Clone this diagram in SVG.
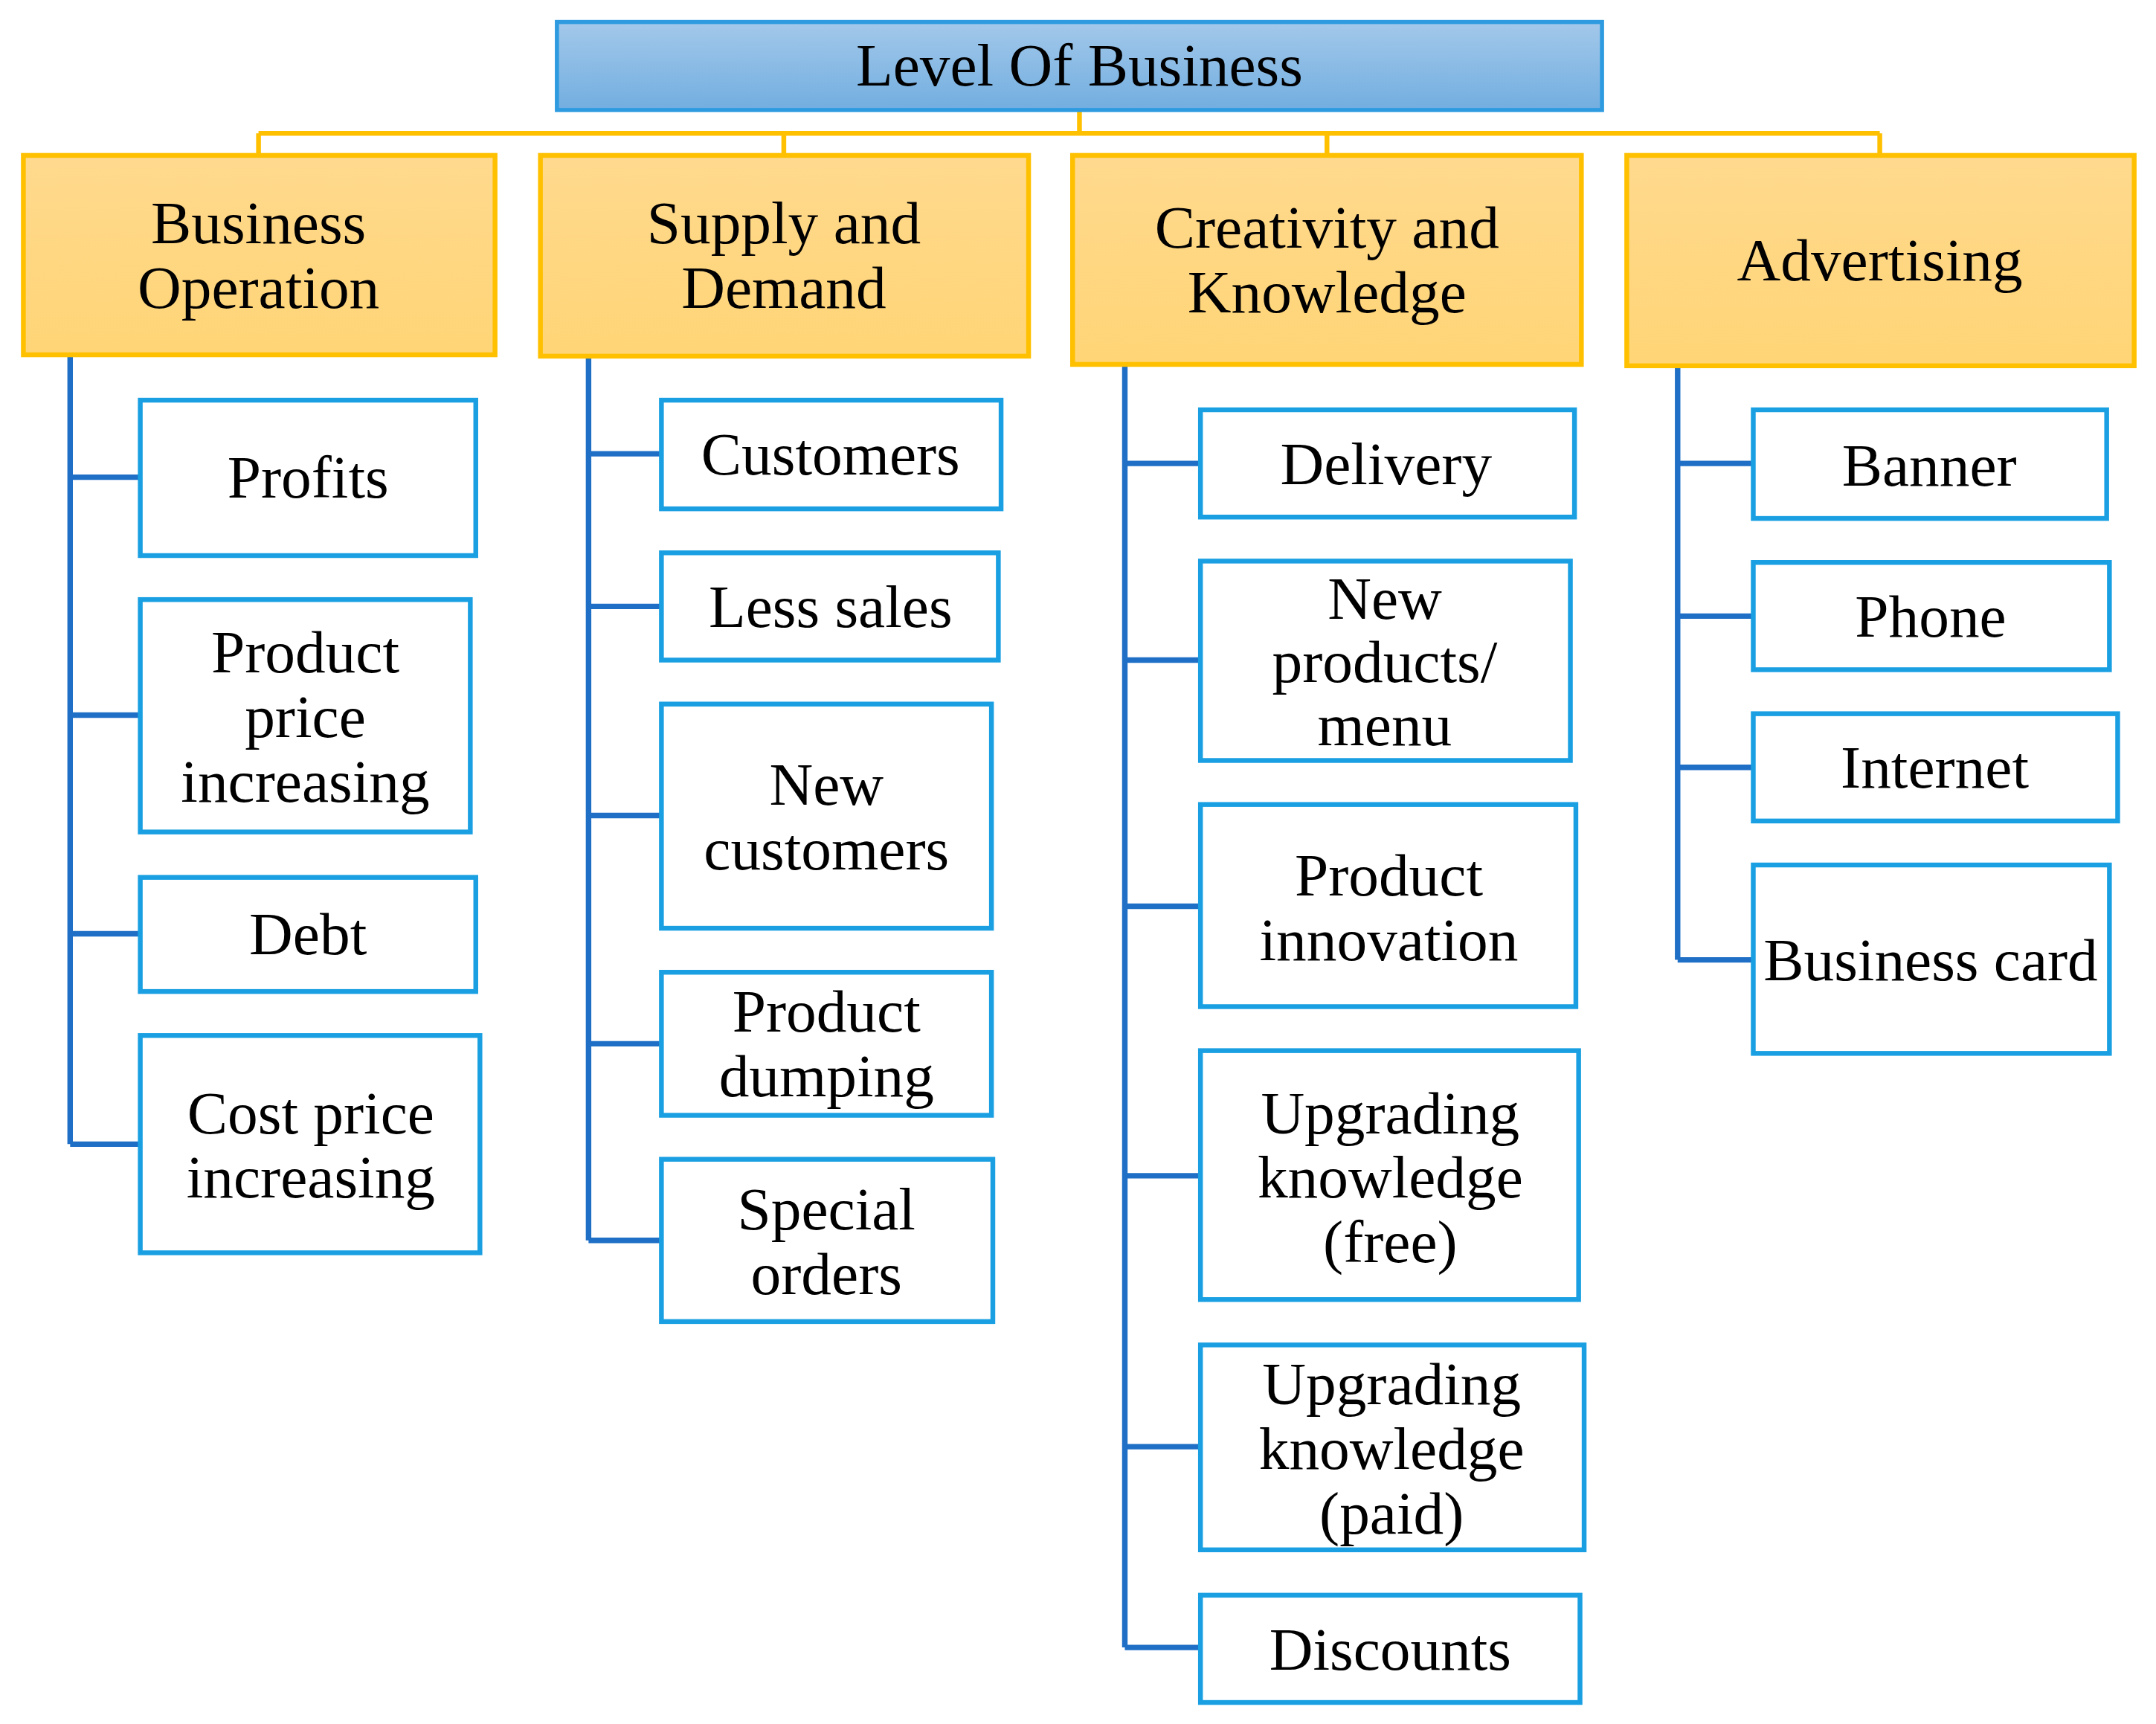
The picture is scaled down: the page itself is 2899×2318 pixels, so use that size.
<svg xmlns="http://www.w3.org/2000/svg" width="2899" height="2318" viewBox="0 0 2899 2318">
<defs>
<linearGradient id="gb" x1="0" y1="0" x2="0" y2="1"><stop offset="0" stop-color="#a3c8ea"/><stop offset="1" stop-color="#72aee0"/></linearGradient>
<linearGradient id="gy" x1="0" y1="0" x2="0" y2="1"><stop offset="0" stop-color="#ffd98e"/><stop offset="1" stop-color="#ffd576"/></linearGradient>
</defs>
<style>
text{font-family:"Liberation Serif","Times New Roman",serif;fill:#000;text-anchor:middle;font-size:44px}
.top{fill:url(#gb);stroke:#2e9be0;stroke-width:3}
.cat{fill:url(#gy);stroke:#ffc000;stroke-width:3.5}
.leaf{fill:#fff;stroke:#1aa0e2;stroke-width:3.5}
.y{stroke:#ffc000;stroke-width:3.5;fill:none}
.b{stroke:#1f6fc6;stroke-width:4;fill:none}
</style>
<rect width="2899" height="2318" fill="#fff"/>
<g transform="scale(1.849)">
<g id="connectors">
<path class="y" d="M785 80V97M188 97H1367M188 97V113M570 97V113M965 97V113M1367 97V113"/>
<path class="b" d="M51 258V832M51 347H102M51 520H102M51 679H102M51 832H102"/>
<path class="b" d="M428 259V902M428 330H481M428 441H481M428 593H481M428 759H481M428 902H481"/>
<path class="b" d="M818 265V1198M818 337H873M818 480H873M818 659H873M818 855H873M818 1052H873M818 1198H873"/>
<path class="b" d="M1220 266V698M1220 337H1275M1220 448H1275M1220 558H1275M1220 698H1275"/>
</g>
<g id="n-top"><rect class="top" x="405" y="16" width="760" height="64"/><text x="785" y="62" font-size="42">Level Of Business</text></g>
<g id="n-bo"><rect class="cat" x="17" y="113" width="343" height="145"/><text x="188" y="177">Business</text><text x="188" y="224">Operation</text></g>
<g id="n-sd"><rect class="cat" x="393" y="113" width="355" height="146"/><text x="570" y="177">Supply and</text><text x="570" y="224">Demand</text></g>
<g id="n-ck"><rect class="cat" x="780" y="113" width="370" height="152"/><text x="965" y="180">Creativity and</text><text x="965" y="227">Knowledge</text></g>
<g id="n-ad"><rect class="cat" x="1183" y="113" width="369" height="153"/><text x="1367" y="204">Advertising</text></g>

<g id="n-profits"><rect class="leaf" x="102" y="291" width="244" height="113"/><text x="224" y="362">Profits</text></g>
<g id="n-ppi"><rect class="leaf" x="102" y="436" width="240" height="169"/><text x="222" y="489">Product</text><text x="222" y="536">price</text><text x="222" y="583">increasing</text></g>
<g id="n-debt"><rect class="leaf" x="102" y="638" width="244" height="83"/><text x="224" y="694">Debt</text></g>
<g id="n-cpi"><rect class="leaf" x="102" y="753" width="247" height="158"/><text x="226" y="824">Cost price</text><text x="226" y="871">increasing</text></g>

<g id="n-cust"><rect class="leaf" x="481" y="291" width="247" height="79"/><text x="604" y="345">Customers</text></g>
<g id="n-less"><rect class="leaf" x="481" y="402" width="245" height="78"/><text x="604" y="456">Less sales</text></g>
<g id="n-newc"><rect class="leaf" x="481" y="512" width="240" height="163"/><text x="601" y="585">New</text><text x="601" y="632">customers</text></g>
<g id="n-dump"><rect class="leaf" x="481" y="707" width="240" height="104"/><text x="601" y="750">Product</text><text x="601" y="797">dumping</text></g>
<g id="n-spec"><rect class="leaf" x="481" y="843" width="241" height="118"/><text x="601" y="894">Special</text><text x="601" y="941">orders</text></g>

<g id="n-deliv"><rect class="leaf" x="873" y="298" width="272" height="78"/><text x="1008" y="352">Delivery</text></g>
<g id="n-newp"><rect class="leaf" x="873" y="408" width="269" height="145"/><text x="1007" y="450">New</text><text x="1007" y="496">products/</text><text x="1007" y="542">menu</text></g>
<g id="n-innov"><rect class="leaf" x="873" y="585" width="273" height="147"/><text x="1010" y="651">Product</text><text x="1010" y="698">innovation</text></g>
<g id="n-free"><rect class="leaf" x="873" y="764" width="275" height="181"/><text x="1011" y="824">Upgrading</text><text x="1011" y="871">knowledge</text><text x="1011" y="918">(free)</text></g>
<g id="n-paid"><rect class="leaf" x="873" y="978" width="279" height="149"/><text x="1012" y="1021">Upgrading</text><text x="1012" y="1068">knowledge</text><text x="1012" y="1115">(paid)</text></g>
<g id="n-disc"><rect class="leaf" x="873" y="1160" width="276" height="78"/><text x="1011" y="1214">Discounts</text></g>

<g id="n-banner"><rect class="leaf" x="1275" y="298" width="257" height="79"/><text x="1403" y="353">Banner</text></g>
<g id="n-phone"><rect class="leaf" x="1275" y="409" width="259" height="78"/><text x="1404" y="463">Phone</text></g>
<g id="n-inet"><rect class="leaf" x="1275" y="519" width="265" height="78"/><text x="1407" y="573">Internet</text></g>
<g id="n-card"><rect class="leaf" x="1275" y="629" width="259" height="137"/><text x="1404" y="713">Business card</text></g>
</g>
</svg>
